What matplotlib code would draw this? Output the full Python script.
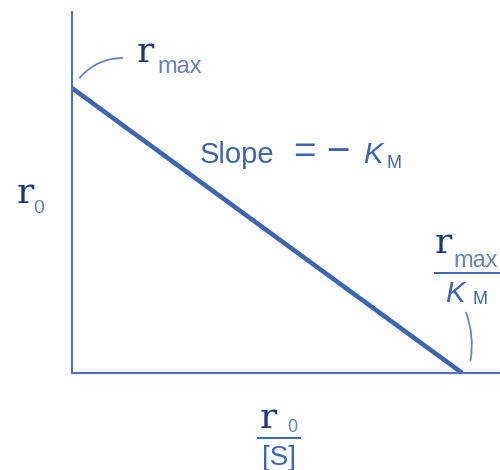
import matplotlib
matplotlib.use("Agg")
import matplotlib.pyplot as plt

# Eadie-Hofstee plot: r0 against r0/[S], a straight line of slope -K_M
r_max = 1.0
K_M = 1.0
x_vals = [0.0, r_max / K_M]
y_vals = [r_max, 0.0]

line_color = "#3f65b1"
axis_color = "#5273b9"
dark = "#1b3777"
light = "#6783c0"

W, H = 500, 470
fig = plt.figure(figsize=(W / 100, H / 100), dpi=100)
ax = fig.add_axes([0.144, 0.2064, 0.856, 0.768])
ax.plot(x_vals, y_vals, color=line_color, lw=3.3, solid_capstyle="butt")
ax.set_xlim(0, 1.097)
ax.set_ylim(0, 1.267)
for s in ["top", "right"]:
    ax.spines[s].set_visible(False)
for s in ["left", "bottom"]:
    ax.spines[s].set_color(axis_color)
    ax.spines[s].set_linewidth(1.5)
ax.set_xticks([])
ax.set_yticks([])

serif = "DejaVu Serif"
sans = "Liberation Sans"


def at(x, y):
    """Figure-fraction position of a point given in pixels from the top left."""
    return x / W, 1 - y / H


def label(x, y, s, **kw):
    fx, fy = at(x, y)
    kw.setdefault("va", "baseline")
    fig.text(fx, fy, s, **kw)


def rule(x0, x1, y):
    (a, b), (c, d) = at(x0, y), at(x1, y)
    fig.add_artist(plt.Line2D([a, c], [b, d], color=line_color, lw=1.4))


def arc(p_from, p_to, rad):
    fig.add_artist(matplotlib.patches.FancyArrowPatch(
        at(*p_from), at(*p_to), transform=fig.transFigure,
        arrowstyle="-", color=light, lw=1.3,
        connectionstyle=f"arc3,rad={rad}"))


# r_max at the y-intercept
label(145, 62, "r", family=serif, fontsize=26, color=dark, ha="center")
label(157, 73, "max", family=sans, fontsize=17, color=light, ha="left")
arc((125, 58), (78, 80), 0.25)

# slope annotation
label(200, 163, "Slope", family=sans, fontsize=21, color=line_color, ha="left")
label(293, 163, "=", family=sans, fontsize=28, color=line_color, ha="left")
label(326, 163, "\u2212", family=sans, fontsize=29, color=line_color, ha="left")
label(363, 163, "K", family=sans, fontsize=21, color=line_color, style="italic", ha="left")
label(386, 168, "M", family=sans, fontsize=13, color=line_color, ha="left")

# r_max / K_M at the x-intercept
label(443, 253, "r", family=serif, fontsize=26, color=dark, ha="center")
label(453, 267, "max", family=sans, fontsize=17, color=light, ha="left")
rule(435, 500, 273)
label(445, 302, "K", family=sans, fontsize=21, color=line_color, style="italic", ha="left")
label(472, 304, "M", family=sans, fontsize=13, color=line_color, ha="left")
arc((465, 310), (470, 363), -0.15)

# y-axis label r0
label(25, 203, "r", family=serif, fontsize=26, color=dark, ha="center")
label(33, 213, "0", family=sans, fontsize=14, color=light, ha="left")

# x-axis label r0 / [S]
label(268, 428, "r", family=serif, fontsize=26, color=dark, ha="center")
label(287, 432, "0", family=sans, fontsize=13, color=light, ha="left")
rule(258, 300, 438)
label(279, 465, "[S]", family=sans, fontsize=20, color=line_color, ha="center")

fig.savefig("out.png", dpi=100)
